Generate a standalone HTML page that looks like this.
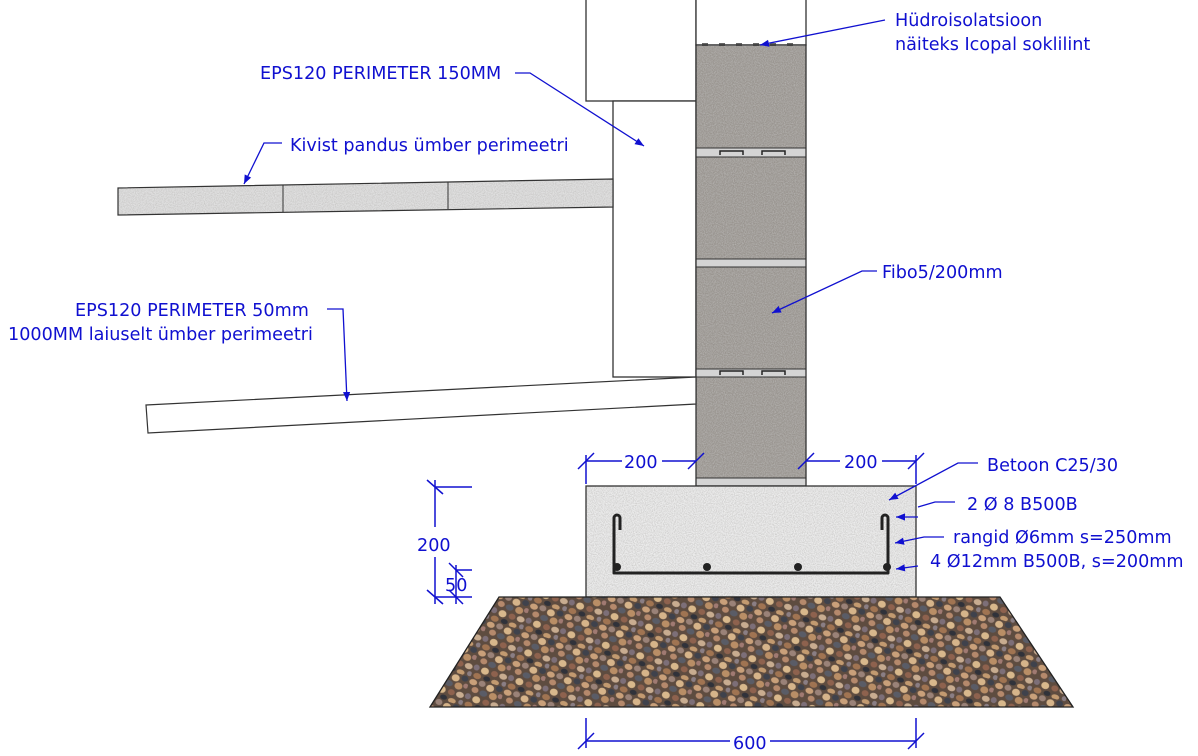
<!DOCTYPE html>
<html><head><meta charset="utf-8"><style>
html,body{margin:0;padding:0;background:#fff}
svg{display:block}
text{font-family:"DejaVu Sans","Liberation Sans",sans-serif;font-size:17.6px;fill:#1010d0}
</style></head><body>
<svg width="1198" height="756" viewBox="0 0 1198 756" xmlns="http://www.w3.org/2000/svg">
<defs>
<filter id="noise" x="0" y="0" width="100%" height="100%">
<feTurbulence type="fractalNoise" baseFrequency="0.9" numOctaves="2" seed="3" result="n"/>
<feColorMatrix in="n" type="matrix" values="0 0 0 0 0.5  0 0 0 0 0.49  0 0 0 0 0.48  0 0 0 1.4 -0.45" result="c"/>
<feComposite in="c" in2="SourceGraphic" operator="in" result="d"/>
<feMerge><feMergeNode in="SourceGraphic"/><feMergeNode in="d"/></feMerge>
</filter>
<pattern id="grav" width="36" height="30" patternUnits="userSpaceOnUse" patternTransform="rotate(17)">
<rect width="36" height="30" fill="#5e4c40"/>
<ellipse cx="4" cy="4" rx="4" ry="3" fill="#c9a07a"/>
<ellipse cx="13" cy="3" rx="3.5" ry="3" fill="#9a8278"/>
<ellipse cx="22" cy="5" rx="4" ry="3.5" fill="#d6b48a"/>
<ellipse cx="31" cy="3" rx="3.5" ry="3" fill="#3f424c"/>
<ellipse cx="8" cy="11" rx="3.5" ry="3" fill="#b5896c"/>
<ellipse cx="17" cy="12" rx="4" ry="3" fill="#5a5c66"/>
<ellipse cx="27" cy="12" rx="4" ry="3.5" fill="#b98e66"/>
<ellipse cx="34" cy="10" rx="2.5" ry="2.5" fill="#a07a72"/>
<ellipse cx="3" cy="19" rx="3" ry="3" fill="#7d6f78"/>
<ellipse cx="12" cy="20" rx="4" ry="3.5" fill="#d8b88c"/>
<ellipse cx="22" cy="20" rx="3.5" ry="3" fill="#8e624e"/>
<ellipse cx="31" cy="20" rx="4" ry="3" fill="#c8ac90"/>
<ellipse cx="6" cy="27" rx="4" ry="3" fill="#a07452"/>
<ellipse cx="16" cy="27" rx="3.5" ry="2.5" fill="#30323a"/>
<ellipse cx="25" cy="28" rx="4" ry="2.5" fill="#c29a70"/>
<ellipse cx="34" cy="27" rx="2.5" ry="2.5" fill="#8a7e84"/>
</pattern>
<marker id="ar" viewBox="0 0 10 10" refX="10" refY="5" markerWidth="9" markerHeight="9" orient="auto-start-reverse" markerUnits="userSpaceOnUse"><path d="M0,1 L10,5 L0,9 z" fill="#1010d0"/></marker>
</defs>

<rect x="586" y="-2" width="110" height="103" fill="#fff" stroke="#333" stroke-width="1.3"/>
<rect x="613" y="101" width="83" height="276" fill="#fff" stroke="#333" stroke-width="1.3"/>
<rect x="696" y="-2" width="110" height="47" fill="#fff" stroke="#333" stroke-width="1.3"/>
<g fill="#666"><rect x="702" y="43" width="6" height="3"/><rect x="719" y="43" width="6" height="3"/><rect x="736" y="43" width="6" height="3"/><rect x="753" y="43" width="6" height="3"/><rect x="770" y="43" width="6" height="3"/><rect x="787" y="43" width="6" height="3"/></g>
<g filter="url(#noise)">
<rect x="696" y="46" width="110" height="102" fill="#9a9590"/>
<rect x="696" y="157" width="110" height="102" fill="#9a9590"/>
<rect x="696" y="267" width="110" height="102" fill="#9a9590"/>
<rect x="696" y="377" width="110" height="101" fill="#9a9590"/>
</g>
<g fill="#d4d4d4" stroke="#333" stroke-width="1">
<rect x="696" y="148" width="110" height="9"/>
<rect x="696" y="259" width="110" height="8"/>
<rect x="696" y="369" width="110" height="8"/>
<rect x="696" y="478" width="110" height="8"/>
</g>
<g fill="none" stroke="#222" stroke-width="1.5">
<path d="M720,155 v-4 h23 v4 M762,155 v-4 h23 v4"/>
<path d="M720,375 v-4 h23 v4 M762,375 v-4 h23 v4"/>
</g>
<rect x="696" y="45" width="110" height="441" fill="none" stroke="#333" stroke-width="1.3"/>

<polygon points="118,188 613,179 613,207 118,215" fill="#e0e0e0" filter="url(#noise)"/>
<polygon points="118,188 613,179 613,207 118,215" fill="none" stroke="#333" stroke-width="1.2"/>
<line x1="283" y1="185" x2="283" y2="212" stroke="#333"/>
<line x1="448" y1="182" x2="448" y2="209" stroke="#333"/>
<polygon points="146,405 696,377 696,404 148,433" fill="#fff" stroke="#333" stroke-width="1.2"/>

<rect x="586" y="486" width="330" height="111" fill="#ececec" filter="url(#noise)"/>
<rect x="586" y="486" width="330" height="111" fill="none" stroke="#333" stroke-width="1.3"/>
<g fill="none" stroke="#222" stroke-width="3" stroke-linejoin="round">
<path d="M620,530 v-12 a3,3 0 0 0 -6,0 v55 h274 v-55 a3,3 0 0 0 -6,0 v12"/>
</g>
<g fill="#222"><circle cx="617" cy="567" r="4"/><circle cx="707" cy="567" r="4"/><circle cx="798" cy="567" r="4"/><circle cx="887" cy="567" r="4"/></g>
<polygon points="499,597 1000,597 1073,707 430,707" fill="url(#grav)" stroke="#222" stroke-width="1.3"/>

<g stroke="#1010d0" stroke-width="1.5" fill="none">
<line x1="586" y1="455" x2="586" y2="484"/><line x1="916" y1="455" x2="916" y2="484"/>
<line x1="586" y1="461" x2="622" y2="461"/><line x1="662" y1="461" x2="696" y2="461"/>
<line x1="806" y1="461" x2="840" y2="461"/><line x1="882" y1="461" x2="916" y2="461"/>
<line x1="578" y1="469" x2="594" y2="453"/><line x1="688" y1="469" x2="704" y2="453"/>
<line x1="798" y1="469" x2="814" y2="453"/><line x1="908" y1="469" x2="924" y2="453"/>
<line x1="435" y1="480" x2="435" y2="527"/><line x1="435" y1="557" x2="435" y2="604"/>
<line x1="435" y1="487" x2="472" y2="487"/><line x1="456" y1="570" x2="472" y2="570"/><line x1="435" y1="597" x2="472" y2="597"/>
<line x1="456" y1="565" x2="456" y2="604"/>
<line x1="427" y1="480" x2="443" y2="494"/><line x1="427" y1="590" x2="443" y2="604"/>
<line x1="449" y1="563" x2="463" y2="577"/><line x1="449" y1="590" x2="463" y2="604"/>
<line x1="586" y1="718" x2="586" y2="748"/><line x1="916" y1="718" x2="916" y2="748"/>
<line x1="586" y1="741" x2="730" y2="741"/><line x1="770" y1="741" x2="916" y2="741"/>
<line x1="578" y1="749" x2="594" y2="733"/><line x1="908" y1="749" x2="924" y2="733"/>
</g>
<text x="624" y="468">200</text>
<text x="844" y="468">200</text>
<text x="417" y="551">200</text>
<text x="445" y="591">50</text>
<text x="733" y="749">600</text>

<g stroke="#1010d0" stroke-width="1.3" fill="none">
<path d="M885,20 L760,45" marker-end="url(#ar)"/>
<path d="M515,73 L530,73 L644,146" marker-end="url(#ar)"/>
<path d="M282,143 L264,143 L244,184" marker-end="url(#ar)"/>
<path d="M327,309 L343,309 L347,401" marker-end="url(#ar)"/>
<path d="M877,271 L862,271 L772,313" marker-end="url(#ar)"/>
<path d="M978,463 L958,463 L889,500" marker-end="url(#ar)"/>
<path d="M955,502 L935,502 L918,507"/>
<path d="M918,517 L896,517" marker-end="url(#ar)"/>
<path d="M944,537 L924,537 L895,543" marker-end="url(#ar)"/>
<path d="M918,566 L896,569" marker-end="url(#ar)"/>
</g>
<text x="895" y="26">Hüdroisolatsioon</text>
<text x="895" y="50">näiteks Icopal soklilint</text>
<text x="260" y="79">EPS120 PERIMETER 150MM</text>
<text x="290" y="151">Kivist pandus ümber perimeetri</text>
<text x="75" y="316">EPS120 PERIMETER 50mm</text>
<text x="8" y="340">1000MM laiuselt ümber perimeetri</text>
<text x="882" y="278">Fibo5/200mm</text>
<text x="987" y="471">Betoon C25/30</text>
<text x="967" y="510">2 Ø 8 B500B</text>
<text x="953" y="543">rangid Ø6mm s=250mm</text>
<text x="930" y="567">4 Ø12mm B500B, s=200mm</text>
</svg>
</body></html>
